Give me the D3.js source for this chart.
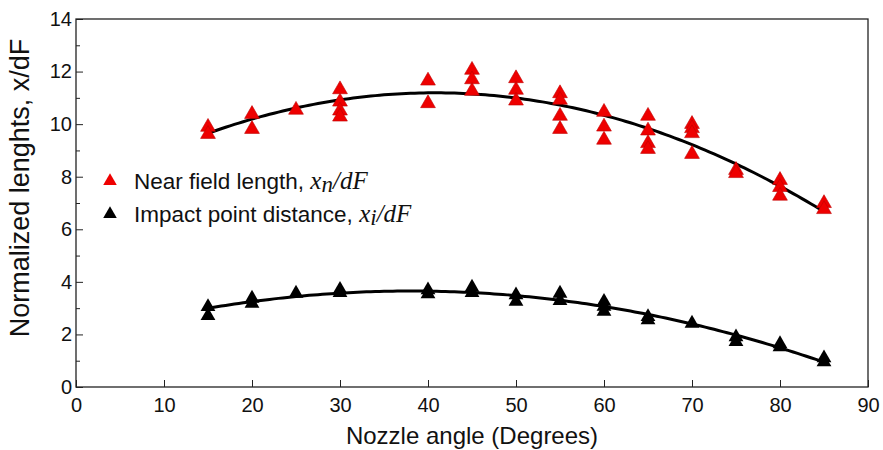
<!DOCTYPE html>
<html>
<head>
<meta charset="utf-8">
<script src="https://cdn.jsdelivr.net/npm/d3@7"></script>
<style>
  body { margin: 0; background: #fff; }
  text { font-family: "Liberation Sans", Arial, sans-serif; }
</style>
</head>
<body>
<svg width="883" height="450"></svg>
<script>
let nearAngles = [15, 15, 20, 20, 25, 30, 30, 30, 30, 40, 40, 45, 45, 45, 50, 50, 50,
    55, 55, 55, 55, 60, 60, 60, 65, 65, 65, 65, 70, 70, 70, 70, 75, 75, 80, 80, 80, 85, 85];
let nearValues = [9.89, 9.62, 10.38, 9.81, 10.54, 11.32, 10.85, 10.51, 10.28, 11.65, 10.79,
    12.06, 11.70, 11.26, 11.74, 11.30, 10.89, 11.17, 10.92, 10.31, 9.81, 10.46, 9.90, 9.40,
    10.31, 9.75, 9.27, 9.05, 10.0, 9.84, 9.65, 8.86, 8.25, 8.13, 7.87, 7.60, 7.27, 6.99, 6.76];

let impactAngles = [15, 15, 20, 20, 25, 30, 30, 40, 40, 45, 45, 50, 50, 55, 55, 60, 60, 60,
    65, 65, 70, 75, 75, 80, 80, 85, 85];
let impactValues = [3.05, 2.71, 3.37, 3.18, 3.56, 3.71, 3.59, 3.69, 3.54, 3.79, 3.59, 3.50, 3.25,
    3.56, 3.28, 3.25, 3.06, 2.87, 2.67, 2.55, 2.42, 1.90, 1.72, 1.64, 1.52, 1.10, 0.95];

let xTicks = [0, 10, 20, 30, 40, 50, 60, 70, 80, 90];
let yTicks = [0, 2, 4, 6, 8, 10, 12, 14];
let yMinor = [1, 3, 5, 7, 9, 11, 13];

let svg = d3.select("svg");
let mLeft = 76, mRight = 868, mTop = 19, mBottom = 387;

let x = d3.scaleLinear().domain([0, 90]).range([mLeft, mRight]);
let y = d3.scaleLinear().domain([0, 14]).range([mBottom, mTop]);

// frame
svg.append("rect")
    .attr("x", mLeft).attr("y", mTop)
    .attr("width", mRight - mLeft).attr("height", mBottom - mTop)
    .attr("fill", "none").attr("stroke", "#222").attr("stroke-width", 1.3);

// axes (ticks inside)
let xAxis = svg.append("g")
    .attr("transform", `translate(0,${mBottom})`)
    .call(d3.axisBottom(x).tickValues(xTicks).tickSize(-7).tickPadding(11));
let yAxis = svg.append("g")
    .attr("transform", `translate(${mLeft},0)`)
    .call(d3.axisLeft(y).tickValues(yTicks).tickSize(-7).tickPadding(4));
svg.append("g")
    .attr("transform", `translate(${mLeft},0)`)
    .call(d3.axisLeft(y).tickValues(yMinor).tickSize(-4).tickFormat(""))
    .select(".domain").remove();

[xAxis, yAxis].forEach(a => {
    a.select(".domain").remove();
    a.selectAll("text").attr("font-size", 20).attr("fill", "#111")
        .attr("font-family", "'Liberation Sans', Arial, sans-serif");
});
svg.selectAll(".tick line").attr("stroke", "#222");

svg.append("text")
    .attr("x", 472).attr("y", 444)
    .attr("text-anchor", "middle").attr("font-size", 24).attr("fill", "#111")
    .text("Nozzle angle (Degrees)");
svg.append("text")
    .attr("transform", "translate(29,188) rotate(-90)")
    .attr("text-anchor", "middle").attr("font-size", 27).attr("fill", "#111")
    .text("Normalized lenghts, x/dF");

// quadratic least squares fit of each series
function quadFit(xs, ys) {
    let s = [0, 0, 0, 0, 0], t = [0, 0, 0];
    xs.forEach((xv, i) => {
        for (let k = 0; k < 5; k++) s[k] += Math.pow(xv, k);
        for (let k = 0; k < 3; k++) t[k] += ys[i] * Math.pow(xv, k);
    });
    let A = [[s[0], s[1], s[2], t[0]], [s[1], s[2], s[3], t[1]], [s[2], s[3], s[4], t[2]]];
    for (let i = 0; i < 3; i++) {
        for (let j = i + 1; j < 3; j++) {
            let f = A[j][i] / A[i][i];
            for (let k = i; k < 4; k++) A[j][k] -= f * A[i][k];
        }
    }
    let c = [0, 0, 0];
    for (let i = 2; i >= 0; i--) {
        let v = A[i][3];
        for (let k = i + 1; k < 3; k++) v -= A[i][k] * c[k];
        c[i] = v / A[i][i];
    }
    return xv => c[0] + c[1] * xv + c[2] * xv * xv;
}

let line = d3.line().x(d => x(d[0])).y(d => y(d[1]));
[[nearAngles, nearValues], [impactAngles, impactValues]].forEach(([xs, ys]) => {
    let f = quadFit(xs, ys);
    let pts = d3.range(15, 85.01, 0.5).map(a => [a, f(a)]);
    svg.append("path")
        .attr("d", line(pts))
        .attr("fill", "none").attr("stroke", "#000").attr("stroke-width", 3);
});

let tri = d3.symbol().type(d3.symbolTriangle).size(95);

svg.append("g").selectAll("path")
    .data(nearAngles.map((a, i) => [a, nearValues[i]]))
    .enter().append("path")
    .attr("d", tri)
    .attr("transform", d => `translate(${x(d[0])},${y(d[1])})`)
    .attr("fill", "#ee0000").attr("stroke", "#c00000").attr("stroke-width", 0.6);

svg.append("g").selectAll("path")
    .data(impactAngles.map((a, i) => [a, impactValues[i]]))
    .enter().append("path")
    .attr("d", tri)
    .attr("transform", d => `translate(${x(d[0])},${y(d[1])})`)
    .attr("fill", "#000");

// legend
let legend = [
    { color: "#ee0000", label: "Near field length, ", sub: "n", y: 181 },
    { color: "#000", label: "Impact point distance, ", sub: "i", y: 214 }
];
legend.forEach(l => {
    svg.append("path")
        .attr("d", d3.symbol().type(d3.symbolTriangle).size(80))
        .attr("transform", `translate(110,${l.y})`)
        .attr("fill", l.color);
    let t = svg.append("text")
        .attr("x", 134).attr("y", l.y + 8)
        .attr("font-size", 22.5).attr("fill", "#111");
    t.append("tspan").text(l.label);
    let serif = "'Liberation Serif', 'Times New Roman', serif";
    t.append("tspan").attr("font-family", serif).attr("font-style", "italic")
        .attr("font-size", 25).text("x");
    t.append("tspan").attr("font-family", serif).attr("font-style", "italic")
        .attr("font-size", 23).attr("dy", 3).text(l.sub);
    t.append("tspan").attr("font-family", serif).attr("font-style", "italic")
        .attr("font-size", 25).attr("dy", -3).text("/dF");
});
</script>
</body>
</html>
